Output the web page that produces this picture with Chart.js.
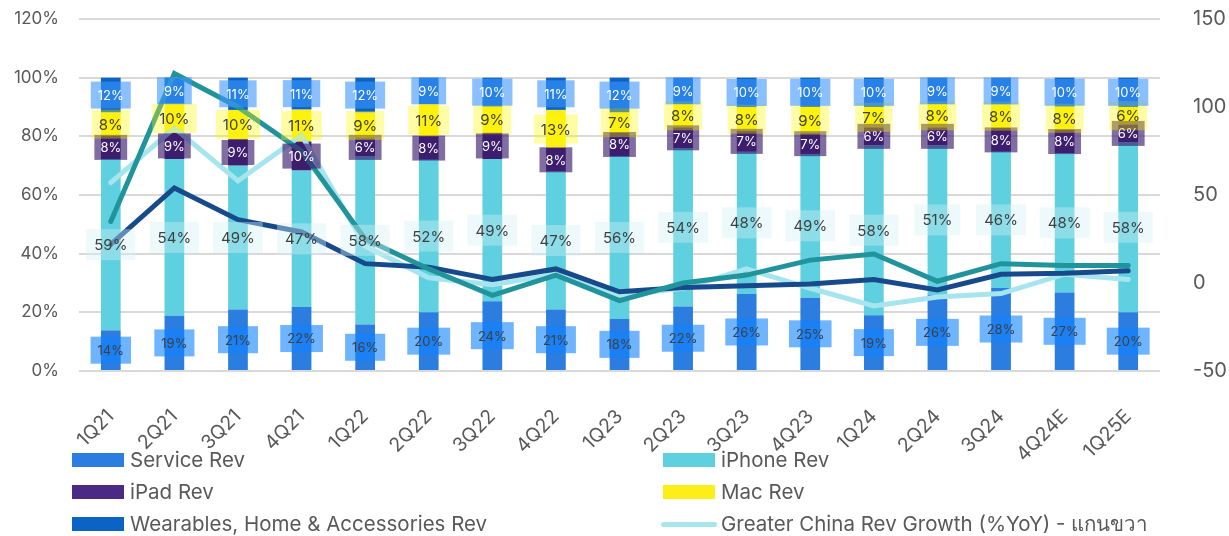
<!DOCTYPE html>
<html>
<head>
<meta charset="utf-8">
<script src="https://cdn.jsdelivr.net/npm/chart.js@4.4.1/dist/chart.umd.min.js"></script>
<style>
  html, body { margin: 0; padding: 0; background: #fff; }
  #wrap { position: relative; width: 1229px; height: 536px; overflow: hidden; }
  #chart { position: absolute; left: 0; top: 0; }
  .lg { position: absolute; height: 24px; font-family: Inter, "Noto Sans", sans-serif; font-size: 20.5px; color: #595959; line-height: 24px; white-space: nowrap; }
  .sw { position: absolute; width: 52px; height: 14px; }
  .swl { position: absolute; width: 56px; height: 5px; border-radius: 3px; }
</style>
</head>
<body>
<div id="wrap">
  <canvas id="chart" width="1229" height="536"></canvas>
  <div id="legend"></div>
</div>
<script>
const FONT = 'Inter, "Noto Sans", sans-serif'

const quarters = ["1Q21", "2Q21", "3Q21", "4Q21", "1Q22", "2Q22", "3Q22", "4Q22", "1Q23", "2Q23", "3Q23", "4Q23", "1Q24", "2Q24", "3Q24", "4Q24E", "1Q25E"]

// revenue mix, % of total
const serviceShare   = [14, 19, 21, 22, 16, 20, 24, 21, 18, 22, 26, 25, 19, 26, 28, 27, 20]
const iphoneShare    = [59, 54, 49, 47, 58, 52, 49, 47, 56, 54, 48, 49, 58, 51, 46, 48, 58]
const ipadShare      = [8, 9, 9, 10, 6, 8, 9, 8, 8, 7, 7, 7, 6, 6, 8, 8, 6]
const macShare       = [8, 10, 10, 11, 9, 11, 9, 13, 7, 8, 8, 9, 7, 8, 8, 8, 6]
const wearablesShare = [12, 9, 11, 11, 12, 9, 10, 11, 12, 9, 10, 10, 10, 9, 9, 10, 10]

// growth lines, %YoY (right axis)
const chinaGrowth = [57, 88, 58, 84, 21, 3, -1, 5, -7, -3, 8, -3, -13, -8, -6, 5, 2]
const totalGrowth = [22, 54, 36, 29, 11, 9, 2, 8, -5, -2.5, -1.5, -0.5, 2, -4, 5, 5.5, 7]
const epsGrowth   = [35, 119, 100, 75, 25, 8, -7, 4.5, -10, 0, 4.5, 13, 16.5, 1, 11, 10, 10]

const leftTicks = [0, 20, 40, 60, 80, 100, 120]
const rightTicks = [-50, 0, 50, 100, 150]

// rounded shares don't always add to 100, so the stack is scaled to a full bar
const shares = [serviceShare, iphoneShare, ipadShare, macShare, wearablesShare]
const totals = quarters.map((_, j) => shares.reduce((s, a) => s + a[j], 0))
const toFull = arr => arr.map((v, j) => v / totals[j] * 100)

const segLabels = {
  id: "segLabels",
  afterDatasetsDraw(chart) {
    const ctx = chart.ctx
    chart.data.datasets.forEach((ds, i) => {
      const st = ds.labelStyle
      if (!st) return
      chart.getDatasetMeta(i).data.forEach((bar, j) => {
        const txt = ds.raw[j] + "%"
        ctx.save()
        ctx.font = st.size + "px " + FONT
        const w = ctx.measureText(txt).width + st.padX * 2
        const h = st.size + st.padY * 2
        const cy = (bar.y + bar.base) / 2
        ctx.fillStyle = st.bg
        ctx.fillRect(bar.x - w / 2, cy - h / 2, w, h)
        ctx.fillStyle = st.color
        ctx.textAlign = "center"
        ctx.textBaseline = "middle"
        ctx.fillText(txt, bar.x, cy + 1)
        ctx.restore()
      })
    })
  }
}

const bar = (label, raw, color, labelStyle) => ({
  type: "bar", label, raw, data: toFull(raw), backgroundColor: color, stack: "mix", yAxisID: "y",
  order: 2, barPercentage: 0.31, categoryPercentage: 1, labelStyle
})
const line = (label, data, color, order) => ({
  type: "line", label, data, borderColor: color, borderWidth: 5, pointRadius: 0,
  tension: 0, yAxisID: "y1", order, borderCapStyle: "round"
})

const noPad = s => { s.paddingTop = 0; s.paddingBottom = 0; s.paddingLeft = 0; s.paddingRight = 0 }

new Chart(document.getElementById("chart"), {
  data: {
    labels: quarters,
    datasets: [
      bar("Service Rev", serviceShare, "#2b7de0", { bg: "rgba(15,130,255,0.6)", color: "#404040", size: 13, padX: 7, padY: 7 }),
      bar("iPhone Rev", iphoneShare, "#5ed0e0", { bg: "rgba(210,239,244,0.4)", color: "#404040", size: 15, padX: 8, padY: 8 }),
      bar("iPad Rev", ipadShare, "#3f1f6e", { bg: "rgba(60,30,110,0.65)", color: "#ffffff", size: 13, padX: 6, padY: 6 }),
      bar("Mac Rev", macShare, "#fcee16", { bg: "rgba(255,245,0,0.35)", color: "#404040", size: 15, padX: 7, padY: 7 }),
      bar("Wearables, Home & Accessories Rev", wearablesShare, "#0b63c3", { bg: "rgba(60,150,255,0.6)", color: "#ffffff", size: 13, padX: 7, padY: 7 }),
      line("Greater China Rev Growth (%YoY) - แกนขวา", chinaGrowth, "#a6e5ee", 1.2),
      line("Total Rev Growth (%YoY)", totalGrowth, "#174a8b", 1.1),
      line("EPS Growth (%YoY)", epsGrowth, "#21939b", 1.0)
    ]
  },
  options: {
    responsive: false,
    animation: false,
    layout: { padding: { top: 19, left: 0, right: 0, bottom: 0 } },
    plugins: { legend: { display: false }, tooltip: { enabled: false } },
    scales: {
      x: {
        grid: { display: false },
        border: { display: false },
        ticks: { color: "#595959", font: { family: FONT, size: 19.5 }, maxRotation: 45, minRotation: 45, padding: 26 },
        afterFit(s) { s.height = 165; noPad(s) }
      },
      y: {
        position: "left", stacked: true, min: 0, max: 120,
        grid: { color: "#d9d9d9", lineWidth: 2, drawTicks: false },
        border: { display: false },
        afterBuildTicks(s) { s.ticks = leftTicks.map(v => ({ value: v })) },
        ticks: { color: "#595959", font: { family: FONT, size: 17 }, padding: 20, callback: v => v + "%" },
        afterFit(s) { s.width = 79; noPad(s) }
      },
      y1: {
        position: "right", min: -50, max: 150,
        grid: { display: false },
        border: { display: false },
        afterBuildTicks(s) { s.ticks = rightTicks.map(v => ({ value: v })) },
        ticks: { color: "#595959", font: { family: FONT, size: 20 }, padding: 25 },
        afterFit(s) { s.width = 69; noPad(s) }
      }
    }
  },
  plugins: [segLabels]
})

// legend in two columns, as in the source
const legendItems = [
  { text: "Service Rev", color: "#2b7de0", x: 72, y: 460 },
  { text: "iPhone Rev", color: "#5ed0e0", x: 663, y: 460 },
  { text: "iPad Rev", color: "#4a2a84", x: 72, y: 492 },
  { text: "Mac Rev", color: "#fcee16", x: 663, y: 492 },
  { text: "Wearables, Home & Accessories Rev", color: "#0b63c3", x: 72, y: 524 },
  { text: "Greater China Rev Growth (%YoY) - แกนขวา", color: "#a6e5ee", x: 661, y: 524, line: true }
]
const lg = document.getElementById("legend")
legendItems.forEach(it => {
  const sw = document.createElement("div")
  sw.className = it.line ? "swl" : "sw"
  sw.style.background = it.color
  sw.style.left = it.x + "px"
  sw.style.top = (it.y - (it.line ? 2.5 : 7)) + "px"
  lg.appendChild(sw)
  const t = document.createElement("div")
  t.className = "lg"
  t.textContent = it.text
  t.style.left = (it.line ? it.x + 60 : it.x + 58) + "px"
  t.style.top = (it.y - 12) + "px"
  lg.appendChild(t)
})
</script>
</body>
</html>
